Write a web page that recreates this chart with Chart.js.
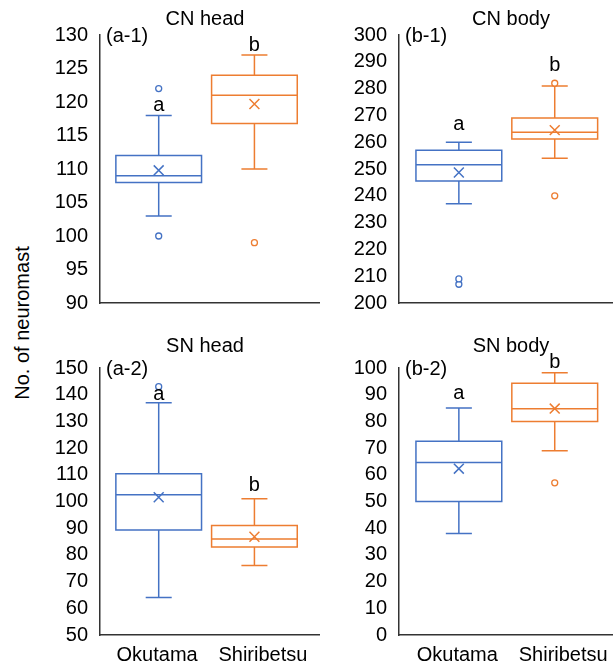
<!DOCTYPE html>
<html>
<head>
<meta charset="utf-8">
<script src="https://cdn.jsdelivr.net/npm/chart.js@4.4.1/dist/chart.umd.min.js"></script>
<style>
  body { margin: 0; background: #fff; width: 613px; height: 668px; position: relative; overflow: hidden; font-family: "Liberation Sans", Arial, sans-serif; }
  canvas { position: absolute; }
  #ytitle { position: absolute; left: 22px; top: 323px; transform: translate(-50%, -50%) rotate(-90deg); font-size: 20px; white-space: nowrap; color: #000; }
</style>
</head>
<body>
<div id="ytitle">No. of neuromast</div>
<canvas id="c0"></canvas>
<canvas id="c1"></canvas>
<canvas id="c2"></canvas>
<canvas id="c3"></canvas>
<script>
// ===== DATA =====
const groups = ['Okutama', 'Shiribetsu'];
const panelTitles = ['CN head', 'CN body', 'SN head', 'SN body'];
const panelTags = ['(a-1)', '(b-1)', '(a-2)', '(b-2)'];
const yMin = [90, 200, 50, 0];
const yMax = [130, 300, 150, 100];
const yStep = [5, 10, 10, 10];

// per panel: [Okutama, Shiribetsu]
const lowWhisker  = [[103, 110],     [237, 254],     [64, 76],      [38, 69]];
const q1          = [[108, 116.8],   [245.5, 261.2], [89.3, 83],    [50, 80]];
const median      = [[109, 121],     [251.6, 263.7], [102.5, 86],   [64.6, 84.7]];
const q3          = [[112, 124],     [257, 269],     [110.4, 91],   [72.6, 94.3]];
const highWhisker = [[118, 127],     [260, 281],     [137, 101],    [85, 98.2]];
const mean        = [[109.8, 119.7], [248.7, 264.5], [101.6, 86.8], [62.3, 84.8]];
const outliers    = [[[100, 122], [99]], [[207, 209], [240, 282]], [[143], []], [[], [57]]];
const letters = ['a', 'b'];
const letterY = [[119.5, 128.5], [266.5, 288.5], [140, 106], [90.5, 102]];

// ===== STYLE / LAYOUT =====
const colors = ['#4472C4', '#ED7D31'];
const FONT = '"Liberation Sans", Arial, sans-serif';
const boxShift = [0.015, -0.08];
const boxHalf = 0.405;
const capHalf = 0.123;
const frames = [
  { x: 0,   y: 0,   w: 320, h: 320, yw: 100, top: 35, xh: 17, xmin: 0.46, xmax: 2.54, titleX: 205, titleY: 25, labels: false },
  { x: 320, y: 0,   w: 293, h: 320, yw: 79,  top: 35, xh: 17, xmin: 0.45, xmax: 2.47, titleX: 191, titleY: 25, labels: false },
  { x: 0,   y: 320, w: 320, h: 348, yw: 100, top: 48, xh: 33, xmin: 0.46, xmax: 2.54, titleX: 205, titleY: 32, labels: true },
  { x: 320, y: 320, w: 293, h: 348, yw: 79,  top: 48, xh: 33, xmin: 0.45, xmax: 2.47, titleX: 191, titleY: 32, labels: true }
];

// ===== BOX PLOT PLUGIN =====
const boxPlugin = {
  id: 'boxes',
  beforeDatasetsDraw(chart, args, opts) {
    const p = opts.panel;
    const ctx = chart.ctx, xs = chart.scales.x, ys = chart.scales.y;
    ctx.save();
    ctx.lineWidth = 1.5;
    groups.forEach((g, i) => {
      const c = i + 1 + boxShift[i];
      const cx = xs.getPixelForValue(c);
      const x0 = xs.getPixelForValue(c - boxHalf), x1 = xs.getPixelForValue(c + boxHalf);
      const k0 = xs.getPixelForValue(c - capHalf), k1 = xs.getPixelForValue(c + capHalf);
      const yLo = ys.getPixelForValue(lowWhisker[p][i]);
      const yQ1 = ys.getPixelForValue(q1[p][i]);
      const yMd = ys.getPixelForValue(median[p][i]);
      const yQ3 = ys.getPixelForValue(q3[p][i]);
      const yHi = ys.getPixelForValue(highWhisker[p][i]);
      ctx.strokeStyle = colors[i];
      ctx.beginPath();
      ctx.rect(x0, yQ3, x1 - x0, yQ1 - yQ3);
      ctx.moveTo(x0, yMd); ctx.lineTo(x1, yMd);
      ctx.moveTo(cx, yQ3); ctx.lineTo(cx, yHi);
      ctx.moveTo(k0, yHi); ctx.lineTo(k1, yHi);
      ctx.moveTo(cx, yQ1); ctx.lineTo(cx, yLo);
      ctx.moveTo(k0, yLo); ctx.lineTo(k1, yLo);
      ctx.stroke();
    });
    ctx.restore();
  },
  afterDraw(chart, args, opts) {
    const p = opts.panel, f = frames[p];
    const ctx = chart.ctx, xs = chart.scales.x, ys = chart.scales.y, area = chart.chartArea;
    ctx.save();
    ctx.fillStyle = '#000';
    ctx.font = '20px ' + FONT;
    ctx.textAlign = 'center';
    ctx.textBaseline = 'alphabetic';
    ctx.fillText(panelTitles[p], f.titleX, f.titleY);
    ctx.textBaseline = 'middle';
    groups.forEach((g, i) => {
      ctx.fillText(letters[i], xs.getPixelForValue(i + 1 + boxShift[i]), ys.getPixelForValue(letterY[p][i]));
    });
    ctx.textAlign = 'left';
    ctx.fillText(panelTags[p], area.left + 6, area.top + 1);
    ctx.restore();
  }
};

// ===== CHARTS =====
function makePanel(p) {
  const f = frames[p];
  const canvas = document.getElementById('c' + p);
  canvas.style.left = f.x + 'px';
  canvas.style.top = f.y + 'px';
  canvas.style.width = f.w + 'px';
  canvas.style.height = f.h + 'px';
  canvas.width = f.w;
  canvas.height = f.h;

  const datasets = groups.flatMap((g, i) => [
    {
      label: g + ' mean',
      data: [{ x: i + 1 + boxShift[i], y: mean[p][i] }],
      pointStyle: 'crossRot', pointRadius: 7,
      borderColor: colors[i], backgroundColor: colors[i], borderWidth: 1.5,
      clip: false
    },
    {
      label: g + ' outliers',
      data: outliers[p][i].map(v => ({ x: i + 1 + boxShift[i], y: v })),
      pointStyle: 'circle', pointRadius: 3,
      borderColor: colors[i], backgroundColor: '#fff', borderWidth: 1.3,
      clip: false
    }
  ]);

  return new Chart(canvas, {
    type: 'scatter',
    data: { datasets },
    plugins: [boxPlugin],
    options: {
      responsive: false,
      animation: false,
      devicePixelRatio: 1,
      layout: { autoPadding: false, padding: { top: f.top, left: 0, right: 0, bottom: 0 } },
      plugins: {
        legend: { display: false },
        tooltip: { enabled: false },
        boxes: { panel: p }
      },
      scales: {
        x: {
          type: 'linear',
          min: f.xmin, max: f.xmax,
          afterBuildTicks: s => { s.ticks = groups.map((g, i) => ({ value: i + 1 })); },
          afterFit: s => { s.height = f.xh; s.paddingLeft = 0; s.paddingRight = 0; },
          grid: { display: false, drawTicks: false },
          border: { display: true, color: '#333', width: 1.5 },
          ticks: {
            display: f.labels,
            autoSkip: false, maxRotation: 0, padding: 8,
            color: '#000', font: { size: 20, family: FONT },
            callback: v => groups[v - 1]
          }
        },
        y: {
          min: yMin[p], max: yMax[p],
          afterFit: s => { s.width = f.yw; s.paddingTop = 0; s.paddingBottom = 0; },
          grid: { display: false, drawTicks: false },
          border: { display: true, color: '#333', width: 1.5 },
          ticks: { stepSize: yStep[p], autoSkip: false, padding: 12, color: '#000', font: { size: 20, family: FONT } }
        }
      }
    }
  });
}

window.addEventListener('load', () => {
  [0, 1, 2, 3].forEach(makePanel);
});
</script>
</body>
</html>
